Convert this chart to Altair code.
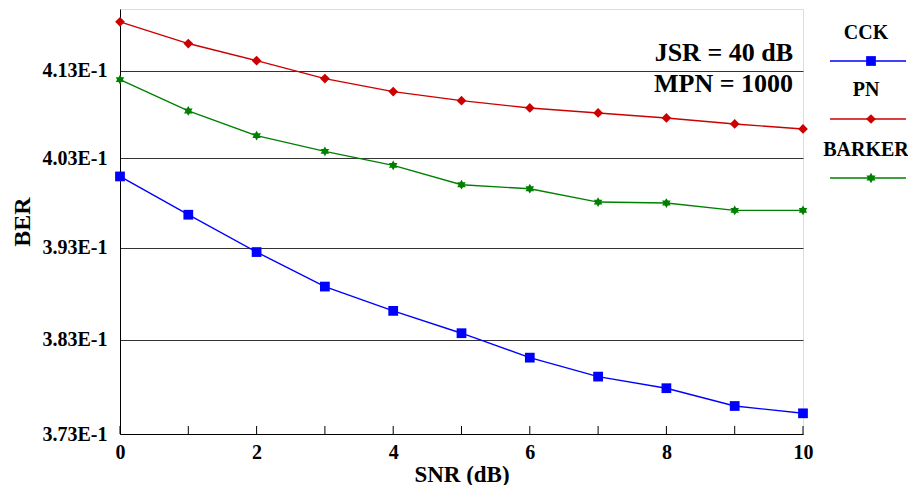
import altair as alt
import pandas as pd

snr = [0, 1, 2, 3, 4, 5, 6, 7, 8, 9, 10]
cck = [0.40093, 0.39665, 0.39252, 0.38874, 0.38610, 0.38369, 0.38107, 0.37905, 0.37782, 0.37594, 0.37517]
pn = [0.41869, 0.41615, 0.41416, 0.41208, 0.41058, 0.40954, 0.40870, 0.40813, 0.40756, 0.40687, 0.40630]
barker = [0.41196, 0.40836, 0.40554, 0.40376, 0.40217, 0.40000, 0.39955, 0.39806, 0.39795, 0.39713, 0.39713]
series_names = ["CCK", "PN", "BARKER"]
series_colors = ["#0000ff", "#cc0000", "#008000"]
y_ticks = [0.373, 0.383, 0.393, 0.403, 0.413]
x_label_vals = [0, 2, 4, 6, 8, 10]
notes = ["JSR = 40 dB", "MPN = 1000"]

FONT = "Liberation Serif, Times New Roman, serif"
W, H = 683, 425
star = "M0,-1L0.3,-0.5L0.87,-0.5L0.6,0L0.87,0.5L0.3,0.5L0,1L-0.3,0.5L-0.87,0.5L-0.6,0L-0.87,-0.5L-0.3,-0.5Z"
shapes = ["square", "diamond", star]
sizes = [95, 95, 110]

rows = []
for name, vals in zip(series_names, [cck, pn, barker]):
    for x, v in zip(snr, vals):
        rows.append({"snr": x, "ber": v, "series": name})
df = pd.DataFrame(rows)

xscale = alt.Scale(domain=[0, 10], nice=False, zero=False)
yscale = alt.Scale(type="log", domain=[0.373, 0.4202], nice=False, zero=False)
cscale = alt.Scale(domain=series_names, range=series_colors)
sscale = alt.Scale(domain=series_names, range=shapes)
zscale = alt.Scale(domain=series_names, range=sizes)

x_enc = alt.X("snr:Q", scale=xscale,
              axis=alt.Axis(values=x_label_vals, format="d", title="SNR (dB)", grid=False, ticks=False,
                            labelFont=FONT, labelFontSize=20, labelFontWeight="bold", labelColor="black",
                            labelPadding=8, titleFont=FONT, titleFontSize=23, titleFontWeight="bold",
                            titleColor="black", titlePadding=1, domainColor="black", labelFlush=False))
y_enc = alt.Y("ber:Q", scale=yscale,
              axis=alt.Axis(values=y_ticks, title="BER", grid=True, gridColor="#333333", gridWidth=1,
                            gridOpacity=1, ticks=False,
                            labelExpr="format(datum.value*10, '.2f') + 'E-1'",
                            labelFont=FONT, labelFontSize=20, labelFontWeight="bold", labelColor="black",
                            labelPadding=13, titleFont=FONT, titleFontSize=24, titleFontWeight="bold",
                            titleColor="black", titlePadding=8, domainColor="black", labelFlush=False))

base = alt.Chart(df)
lines = base.mark_line(strokeWidth=1.4).encode(
    x=x_enc, y=y_enc,
    color=alt.Color("series:N", scale=cscale, legend=None),
)
points = base.mark_point(filled=True, opacity=1).encode(
    x=alt.X("snr:Q", scale=xscale), y=alt.Y("ber:Q", scale=yscale),
    color=alt.Color("series:N", scale=cscale, legend=None),
    shape=alt.Shape("series:N", scale=sscale, legend=None),
    size=alt.Size("series:N", scale=zscale, legend=None),
)

tick_df = pd.DataFrame({"snr": snr})
xticks = alt.Chart(tick_df).mark_rule(color="black", strokeWidth=1).encode(
    x=alt.X("snr:Q", scale=xscale), y=alt.value(H - 8), y2=alt.value(H)
)

layers = [lines, points, xticks]

# annotations
for i, t in enumerate(notes):
    layers.append(
        alt.Chart(pd.DataFrame({"t": [t]})).mark_text(
            font=FONT, fontSize=26, fontWeight="bold", align="right", baseline="middle", color="black"
        ).encode(text="t:N", x=alt.value(673), y=alt.value(44 + 31 * i))
    )

# manual legend (label above line sample)
leg_text_y = [24, 81, 141]
leg_line_y = [52, 110, 169]
for i, name in enumerate(series_names):
    d = pd.DataFrame({"series": [name]})
    layers.append(
        alt.Chart(d).mark_text(font=FONT, fontSize=20, fontWeight="bold", align="center",
                               baseline="middle", color="black").encode(
            text="series:N", x=alt.value(746), y=alt.value(leg_text_y[i]))
    )
    layers.append(
        alt.Chart(d).mark_rule(color=series_colors[i], strokeWidth=1.4).encode(
            x=alt.value(710), x2=alt.value(786), y=alt.value(leg_line_y[i]))
    )
    layers.append(
        alt.Chart(d).mark_point(filled=True, opacity=1, color=series_colors[i],
                                shape=shapes[i], size=sizes[i]).encode(
            x=alt.value(751), y=alt.value(leg_line_y[i]))
    )

chart = alt.layer(*layers).properties(
    width=W, height=H,
    autosize=alt.AutoSizeParams(type="none"),
    padding={"left": 112, "top": 1, "right": 105, "bottom": 51},
).configure_view(stroke="black", strokeWidth=1).configure(background="white")

chart.save("out.html", embed_options={"renderer": "svg", "actions": False})
